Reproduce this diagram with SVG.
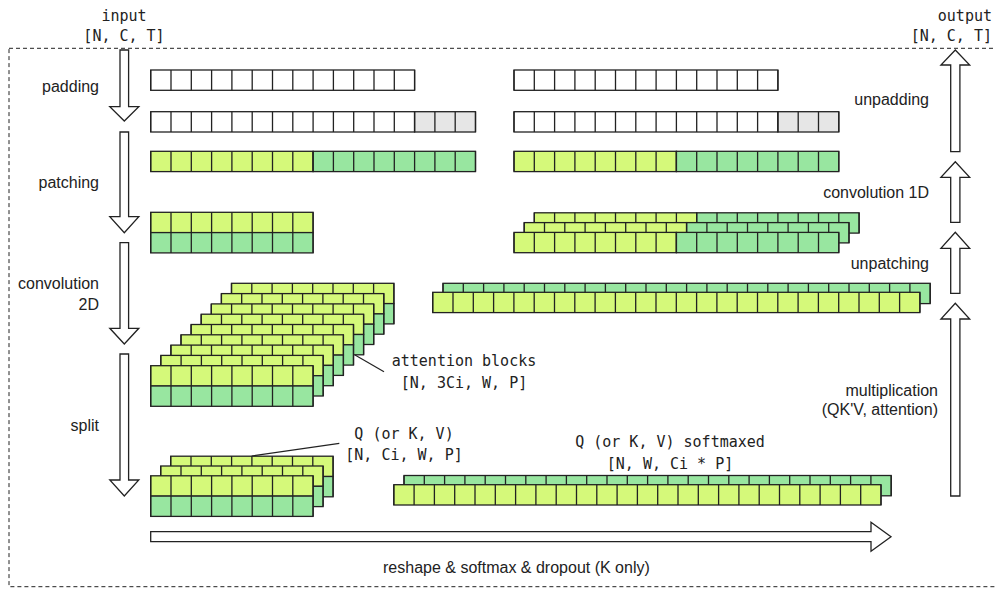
<svg xmlns="http://www.w3.org/2000/svg" xmlns:xlink="http://www.w3.org/1999/xlink" width="995" height="590" viewBox="0 0 995 590">
<style>
.l{fill:#d5f97a}
.g{fill:#98e6a0}
.w{fill:#ffffff}
.gr{fill:#e6e6e6}
.cell{stroke:#222;stroke-width:1.3}
.dv{stroke:#222;stroke-width:20.3;stroke-dasharray:1.3 19;fill:none}
.arrow{fill:#fff;stroke:#222;stroke-width:1.3;stroke-linejoin:miter}
.lead{stroke:#222;stroke-width:1.2;fill:none}
.frame{fill:none;stroke:#222;stroke-width:1;stroke-dasharray:4 3}
.lbl{font-family:"Liberation Sans",Arial,sans-serif;font-size:16px;fill:#222}
.mono{font-family:"DejaVu Sans Mono","Liberation Mono",monospace;font-size:15px;fill:#222}
.end{text-anchor:end}
.mid{text-anchor:middle}
</style>
<defs>
<g id="W13"><rect class="cell w" width="263.9" height="20.3"/><line class="dv" x1="-0.65" y1="10.15" x2="264.55" y2="10.15"/></g>
<g id="W16"><rect class="cell w" width="263.9" height="20.3"/><rect class="cell gr" x="263.9" width="60.9" height="20.3"/><line class="dv" x1="-0.65" y1="10.15" x2="325.45" y2="10.15"/></g>
<g id="LG16"><rect class="cell l" width="162.4" height="20.3"/><rect class="cell g" x="162.4" width="162.4" height="20.3"/><line class="dv" x1="-0.65" y1="10.15" x2="325.45" y2="10.15"/></g>
<g id="L8"><rect class="cell l" width="162.4" height="20.3"/><line class="dv" x1="-0.65" y1="10.15" x2="163.05" y2="10.15"/></g>
<g id="G8"><rect class="cell g" width="162.4" height="20.3"/><line class="dv" x1="-0.65" y1="10.15" x2="163.05" y2="10.15"/></g>
<g id="blk"><use xlink:href="#L8" href="#L8"/><use xlink:href="#G8" href="#G8" y="20.3"/></g>
<g id="L24"><rect class="cell l" width="487.2" height="20.3"/><line class="dv" x1="-0.65" y1="10.15" x2="487.85" y2="10.15"/></g>
<g id="G24"><rect class="cell g" width="487.2" height="20.3"/><line class="dv" x1="-0.65" y1="10.15" x2="487.85" y2="10.15"/></g>
</defs>

<rect class="frame" x="9" y="48.3" width="990" height="538.4"/>

<g id="input-label">
<text class="mono mid" x="124" y="21">input</text>
<text class="mono mid" x="124" y="41">[N, C, T]</text>
</g>
<g id="output-label">
<text class="mono end" x="992" y="21">output</text>
<text class="mono end" x="992" y="41">[N, C, T]</text>
</g>

<g id="seq-input"><use xlink:href="#W13" href="#W13" x="150.7" y="70"/></g>
<g id="seq-padded"><use xlink:href="#W16" href="#W16" x="150.7" y="111.7"/></g>
<g id="seq-colored"><use xlink:href="#LG16" href="#LG16" x="150.7" y="151.3"/></g>
<g id="patches"><use xlink:href="#blk" href="#blk" x="150.7" y="212.3"/></g>

<g id="attention-blocks">
<use xlink:href="#blk" href="#blk" x="231.5" y="283.3"/>
<use xlink:href="#blk" href="#blk" x="221.4" y="293.6"/>
<use xlink:href="#blk" href="#blk" x="211.3" y="303.9"/>
<use xlink:href="#blk" href="#blk" x="201.2" y="314.2"/>
<use xlink:href="#blk" href="#blk" x="191.1" y="324.5"/>
<use xlink:href="#blk" href="#blk" x="181.0" y="334.8"/>
<use xlink:href="#blk" href="#blk" x="170.9" y="345.1"/>
<use xlink:href="#blk" href="#blk" x="160.8" y="355.4"/>
<use xlink:href="#blk" href="#blk" x="150.7" y="365.7"/>
</g>

<g id="qkv">
<use xlink:href="#blk" href="#blk" x="170.7" y="456.2"/>
<use xlink:href="#blk" href="#blk" x="160.7" y="466"/>
<use xlink:href="#blk" href="#blk" x="150.7" y="475.8"/>
</g>

<g id="softmaxed">
<use xlink:href="#G24" href="#G24" x="404" y="475.5"/>
<use xlink:href="#L24" href="#L24" x="393.8" y="484.7"/>
</g>

<g id="attention-out">
<use xlink:href="#G24" href="#G24" x="443" y="283.3"/>
<use xlink:href="#L24" href="#L24" x="432.7" y="292.3"/>
</g>

<g id="unpatched">
<use xlink:href="#LG16" href="#LG16" x="534.3" y="212.8"/>
<use xlink:href="#LG16" href="#LG16" x="524.2" y="222.6"/>
<use xlink:href="#LG16" href="#LG16" x="514" y="232.4"/>
</g>

<g id="seq-conv1d"><use xlink:href="#LG16" href="#LG16" x="514" y="151.3"/></g>
<g id="seq-out-padded"><use xlink:href="#W16" href="#W16" x="514" y="111.7"/></g>
<g id="seq-output"><use xlink:href="#W13" href="#W13" x="514" y="70"/></g>

<g id="connectors">
<polygon class="arrow" points="120,50 128.6,50 128.6,106.7 138.8,106.7 124.3,121 109.8,106.7 120,106.7"/>
<polygon class="arrow" points="120,132 128.6,132 128.6,216.7 138.8,216.7 124.3,232.7 109.8,216.7 120,216.7"/>
<polygon class="arrow" points="120,242.7 128.6,242.7 128.6,328.3 138.8,328.3 124.3,344 109.8,328.3 120,328.3"/>
<polygon class="arrow" points="120,354 128.6,354 128.6,480 138.8,480 124.3,496 109.8,480 120,480"/>
<polygon class="arrow" points="150.7,531.7 871,531.7 871,522.2 891,536.7 871,551.2 871,541.7 150.7,541.7"/>
<polygon class="arrow" points="950.7,496 959.9,496 959.9,319 969.7,319 955.3,303.3 940.9,319 950.7,319"/>
<polygon class="arrow" points="950.7,293.3 959.9,293.3 959.9,248.3 969.7,248.3 955.3,232.3 940.9,248.3 950.7,248.3"/>
<polygon class="arrow" points="950.7,222.3 959.9,222.3 959.9,177.3 969.7,177.3 955.3,161.7 940.9,177.3 950.7,177.3"/>
<polygon class="arrow" points="950.7,151.7 959.9,151.7 959.9,65 969.7,65 955.3,50 940.9,65 950.7,65"/>
<line class="lead" x1="355" y1="355" x2="384" y2="371.7"/>
<line class="lead" x1="251.7" y1="456" x2="339.3" y2="443.3"/>
</g>

<g id="labels">
<text class="lbl end" x="99" y="92">padding</text>
<text class="lbl end" x="99" y="188">patching</text>
<text class="lbl end" x="99" y="289">convolution</text>
<text class="lbl end" x="99" y="310">2D</text>
<text class="lbl end" x="99" y="431">split</text>
<text class="lbl end" x="929" y="105">unpadding</text>
<text class="lbl end" x="929" y="198">convolution 1D</text>
<text class="lbl end" x="929" y="269">unpatching</text>
<text class="lbl end" x="938" y="396">multiplication</text>
<text class="lbl end" x="938" y="415">(QK'V, attention)</text>
<text class="lbl" x="383" y="573">reshape &amp; softmax &amp; dropout (K only)</text>
<text class="mono mid" x="464" y="366">attention blocks</text>
<text class="mono mid" x="464" y="388">[N, 3Ci, W, P]</text>
<text class="mono mid" x="404" y="439">Q (or K, V)</text>
<text class="mono mid" x="404" y="460">[N, Ci, W, P]</text>
<text class="mono mid" x="670" y="447">Q (or K, V) softmaxed</text>
<text class="mono mid" x="670" y="469">[N, W, Ci * P]</text>
</g>
</svg>
